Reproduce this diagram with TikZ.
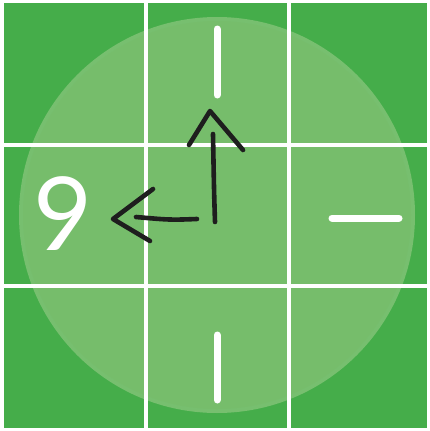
\documentclass[tikz,border=0pt]{standalone}
\usepackage{fontspec}
\setmainfont{Lato}
\definecolor{darkgreen}{HTML}{45AD4A}
\definecolor{lightgreen}{HTML}{76BD6B}
\definecolor{ringgreen}{HTML}{80C376}
\definecolor{inkblack}{HTML}{1E1E1E}
\tikzset{
  cell/.style={fill=darkgreen, draw=none},
  tickmark/.style={draw=white, line width=7pt, line cap=round},
  hand/.style={draw=inkblack, line width=4.6pt, line cap=round, line join=round},
  numeral/.style={text=white, inner sep=0pt, font=\fontsize{102}{102}\selectfont}
}
\begin{document}
\begin{tikzpicture}[x=1pt,y=-1pt]
\useasboundingbox (0,0) rectangle (429,431);
\fill[white] (0,0) rectangle (429,431);
% grid of cells
\foreach \xa/\xb in {4/143.5, 147.5/286.5, 290.5/427}{
  \foreach \ya/\yb in {3/143, 147/283.5, 287.5/428}{
    \path[cell] (\xa,\ya) rectangle (\xb,\yb);
  }
}
% clock face
\begin{scope}
  \clip (4,3) rectangle (427,428);
  \fill[ringgreen, opacity=0.85] (217,215) circle (198);
  \fill[lightgreen, opacity=0.85] (217,215) circle (194);
\end{scope}
% white grid lines over the face
\fill[white] (143.5,3) rectangle (147.5,428);
\fill[white] (286.5,3) rectangle (290.5,428);
\fill[white] (4,143) rectangle (427,147);
\fill[white] (4,283.5) rectangle (427,287.5);
% hour marks
\coordinate (t12a) at (217,29); \coordinate (t12b) at (217,95);
\coordinate (t6a) at (217,335); \coordinate (t6b) at (217,400);
\coordinate (t3a) at (332,218); \coordinate (t3b) at (399,218);
\draw[tickmark] (t12a) -- (t12b);
\draw[tickmark] (t6a) -- (t6b);
\draw[tickmark] (t3a) -- (t3b);
\node[numeral] (nine) at (63,214) {9};
% hands
\coordinate (pivot) at (215,222);
\coordinate (vtop) at (213,134);
\coordinate (vtip) at (210,111);
\coordinate (vl) at (189,145);
\coordinate (vr) at (243,150);
\draw[hand] (pivot) .. controls (214,190) .. (vtop);
\draw[hand] (vl) -- (vtip) -- (vr);
\coordinate (hstart) at (197,219);
\coordinate (hend) at (136,217);
\coordinate (htip) at (113,219);
\coordinate (hu) at (153,189);
\coordinate (hd) at (150,241);
\draw[hand] (hstart) .. controls (170,220) .. (hend);
\draw[hand] (hu) -- (htip) -- (hd);
\end{tikzpicture}
\end{document}
